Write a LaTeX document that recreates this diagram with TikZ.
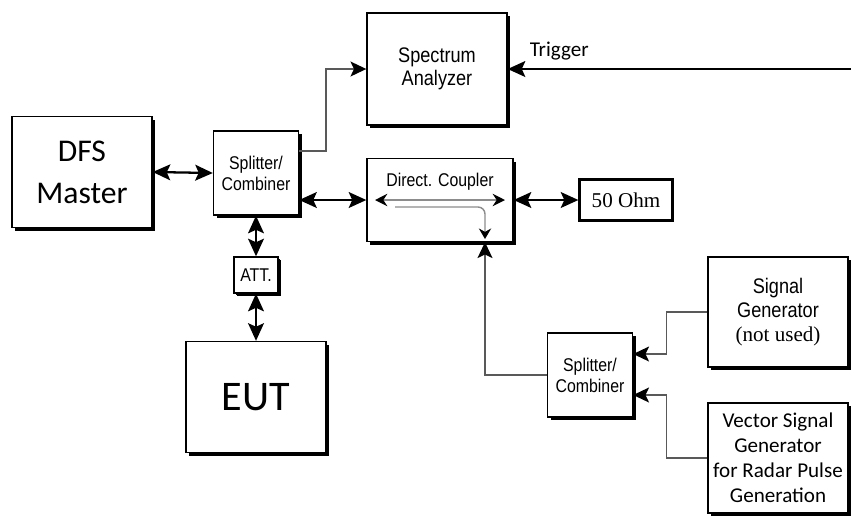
\documentclass[tikz,border=0pt]{standalone}
\usepackage{fontspec}
\setmainfont{Carlito}
\newfontfamily\narrowfont[FakeStretch=0.86]{Liberation Sans}
\newfontfamily\seriffont{Liberation Serif}
\usetikzlibrary{arrows.meta,positioning,shadows,calc}
\tikzset{
	block/.style    = {shape=rectangle, draw, line width=0.8pt, fill=white,
		align=center, inner sep=1pt,
		drop shadow={shadow xshift=1.8pt, shadow yshift=-1.8pt, opacity=1, fill=black}},
	bigbox/.style   = {block, minimum width=2.8cm, minimum height=2.22cm},
	splitbox/.style = {block, minimum width=1.7cm, minimum height=1.68cm,
		font=\narrowfont\fontsize{10.5}{12}\selectfont},
	ohmbox/.style   = {shape=rectangle, draw, line width=1.3pt, fill=white,
		minimum width=1.86cm, minimum height=0.82cm,
		font=\seriffont\fontsize{12}{14}\selectfont},
	biarrow/.style  = {{Stealth[length=10pt,width=9pt,inset=2pt]}-{Stealth[length=10pt,width=9pt,inset=2pt]}, line width=1.3pt},
	feed/.style     = {-{Stealth[length=9pt,width=8.5pt,inset=2pt,color=black]}, draw=black!65, line width=0.9pt},
	trig/.style     = {-{Stealth[length=10pt,width=9pt,inset=2pt]}, line width=1.4pt},
}

\begin{document}
\begin{tikzpicture}[x=0.02cm, y=-0.02cm]
	\useasboundingbox (0,0) rectangle (851,515);
	
	\node[bigbox, font=\fontsize{18}{24}\selectfont] (dfs) at (82,172) {DFS\\Master};
	\node[splitbox] (split1) at (256,173) {Splitter/\\Combiner};
	\node[block, minimum width=0.88cm, minimum height=0.72cm,
		drop shadow={shadow xshift=1.1pt, shadow yshift=-1.1pt, opacity=1, fill=black},
		font=\narrowfont\fontsize{10.5}{12}\selectfont] (att) at (256,275) {ATT.};
	\node[bigbox, font=\fontsize{24}{28}\selectfont] (eut) at (256,397) {EUT};
	\node[bigbox, minimum height=2.24cm,
		font=\narrowfont\fontsize{12}{13}\selectfont] (sa) at (437,69) {Spectrum\\Analyzer};
	\node[block, minimum width=2.92cm, minimum height=1.66cm,
		label={[font=\narrowfont\fontsize{10.5}{12}\selectfont, yshift=0.36cm]center:Direct. Coupler}] (coupler) at (440,200) {};
	\node[ohmbox] (ohm) at (626,200) {50 Ohm};
	\node[splitbox] (split2) at (590,375) {Splitter/\\Combiner};
	\node[bigbox, minimum height=2.2cm,
		font=\narrowfont\fontsize{12}{13.6}\selectfont] (sg) at (778,312) {Signal\\Generator\\{\seriffont(not used)}};
	\node[bigbox, minimum height=2.2cm,
		font=\fontsize{12}{14.2}\selectfont] (vsg) at (778,458) {Vector Signal\\Generator\\for Radar Pulse\\Generation};
	\coordinate (trigin) at (851,69);
	
	% links round the first splitter
	\draw[biarrow] (dfs.east) -- (split1.west);
	\draw[biarrow] (split1.south) -- (att.north);
	\draw[biarrow] (att.south) -- (eut.north);
	\draw[biarrow] (split1.east |- coupler.west) -- (coupler.west);
	\draw[biarrow] (coupler.east) -- (ohm.west);
	\draw[feed] ([yshift=0.44cm]split1.east) -- ++(27,0) |- (sa.west);
	\draw[trig] (trigin) -- node[pos=0.85, above=1pt, font=\fontsize{12}{14}\selectfont]{Trigger} (sa.east);
	
	% inside the coupler
	\draw[{Stealth[length=7pt,width=7pt,color=black]}-{Stealth[length=7pt,width=7pt,color=black]}, draw=black!45, line width=1.4pt]
		($(coupler.center)+(-65,0)$) -- ($(coupler.center)+(65,0)$);
	\draw[-{Stealth[length=6pt,width=7pt,color=black]}, draw=black!45, line width=0.8pt, rounded corners=4pt]
		($(coupler.center)+(-45,7)$) -| ($(coupler.center)+(45,39)$);
	
	% generators
	\draw[feed] (split2.west) -| ([xshift=0.9cm]coupler.south);
	\draw[feed] (sg.west) -- ++(-41,0) |- ([yshift=0.42cm]split2.east);
	\draw[feed] (vsg.west) -- ++(-41,0) |- ([yshift=-0.4cm]split2.east);
\end{tikzpicture}
\end{document}
